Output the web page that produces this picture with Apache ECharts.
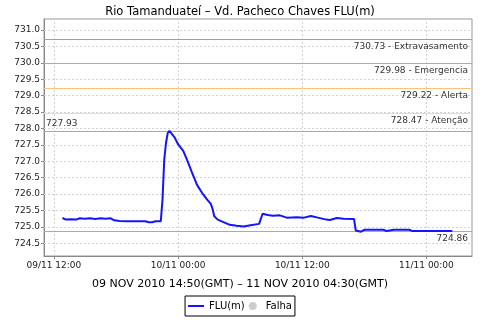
<!DOCTYPE html>
<html>
<head>
<meta charset="utf-8">
<script src="https://cdn.jsdelivr.net/npm/echarts@6/dist/echarts.min.js"></script>
<style>html,body{margin:0;padding:0;background:#fff}#c{width:480px;height:320px}</style>
</head>
<body>
<div id="c"></div>
<script>
// Times (local, dd/MM HH:mm, November 2010) and FLU(m) readings
var times = ['09 12:50','09 13:10','09 13:40','09 14:10','09 14:20','09 14:30','09 15:00','09 15:30','09 16:00','09 16:30',
 '09 17:00','09 17:30','09 17:50','09 18:20','09 19:00','09 19:50','09 20:50','09 21:10','09 21:30','09 21:50',
 '09 22:20','09 22:30','09 22:40','09 22:50','09 23:00','09 23:10','09 23:40','10 00:00','10 00:30','10 00:50',
 '10 01:20','10 01:50','10 02:20','10 02:50','10 03:10','10 03:20','10 03:30','10 03:50','10 04:30','10 05:00',
 '10 05:40','10 06:20','10 07:00','10 07:50','10 08:00','10 08:10','10 08:40','10 09:10','10 09:50','10 10:30',
 '10 11:30','10 12:10','10 12:50','10 13:30','10 13:40','10 14:20','10 14:40','10 15:20','10 16:00','10 17:00',
 '10 17:10','10 17:40','10 18:00','10 19:50','10 20:10','10 20:50','10 22:20','10 22:40','11 02:30'];
var flu = [725.27,725.22,725.23,725.22,725.28,725.26,725.25,725.26,725.24,725.26,
 725.25,725.26,725.20,725.18,725.17,725.17,725.17,725.14,725.14,725.17,
 725.17,725.83,727.05,727.55,727.86,727.93,727.73,727.52,727.32,727.07,
 726.67,726.28,726.03,725.82,725.70,725.55,725.32,725.22,725.13,725.06,
 725.03,725.01,725.05,725.09,725.10,725.40,725.36,725.34,725.35,725.28,
 725.29,725.28,725.33,725.28,725.27,725.22,725.21,725.27,725.25,725.24,
 724.89,724.85,724.91,724.91,724.87,724.91,724.91,724.87,724.87];
var xTicks = ['09 12:00', '10 00:00', '10 12:00', '11 00:00'];
var yTicks = [724.5, 725.0, 725.5, 726.0, 726.5, 727.0, 727.5, 728.0, 728.5, 729.0, 729.5, 730.0, 730.5, 731.0];
var markerValues = [730.73, 729.98, 729.22, 728.47];
var markerNames = ['Extravasamento', 'Emergencia', 'Alerta', 'Atenção'];
var markerColors = ['#f08080', '#ff70ff', '#ffc080', '#ffe070'];
var maxValue = 727.93;
var lastValue = 724.86;

function toTs(s) {
  var d = +s.slice(0, 2), h = +s.slice(3, 5), m = +s.slice(6, 8);
  return Date.UTC(2010, 10, d, h, m);
}
function pad(n) { return (n < 10 ? '0' : '') + n; }

var data = times.map(function (t, i) { return [toTs(t), flu[i]]; });
var xTickValues = xTicks.map(toTs);

var lblFont = { color: '#333', fontSize: 9, fontFamily: 'DejaVu Sans' };
function thresholdSeries(v, color, text, pos, dist) {
  return {
    name: 'thr' + v, type: 'line', data: [], z: 2, silent: true, color: color,
    itemStyle: { color: color }, lineStyle: { color: color },
    markLine: {
      silent: true, symbol: ['none', 'none'], animation: false,
      lineStyle: { color: color, type: 'solid', width: 1.2, opacity: 1 },
      label: Object.assign({ show: true, position: pos, formatter: text, distance: dist }, lblFont),
      data: [{ yAxis: v }]
    }
  };
}
var gridDash = { color: '#d4d4d4', type: [2, 2], width: 1 };
var gridSeries = {
  name: 'grid', type: 'line', data: [], z: 1, silent: true, color: '#d4d4d4',
  markLine: {
    silent: true, symbol: ['none', 'none'], animation: false,
    lineStyle: gridDash, label: { show: false },
    data: xTickValues.map(function (t) { return { xAxis: t }; })
      .concat(yTicks.map(function (v) { return { yAxis: v }; }))
  }
};

var series = [gridSeries];
markerValues.forEach(function (v, i) {
  series.push(thresholdSeries(v, markerColors[i], v.toFixed(2) + ' - ' + markerNames[i], 'insideEndBottom', [4, 3]));
});
series.push(thresholdSeries(maxValue, '#aaaaaa', maxValue.toFixed(2), 'insideStartTop', [2, 3]));
series.push(thresholdSeries(lastValue, '#aaaaaa', lastValue.toFixed(2), 'insideEndBottom', [4, 3]));
series.push({
  name: 'FLU(m)', type: 'line', data: data, symbol: 'none', showSymbol: false,
  lineStyle: { color: '#1414ff', width: 2 }, itemStyle: { color: '#1414ff' }, z: 5
});
series.push({ name: 'Falha', type: 'scatter', data: [], itemStyle: { color: '#c0c0c0' } });

var chart = echarts.init(document.getElementById('c'), null, { renderer: 'canvas' });
chart.setOption({
  animation: false,
  backgroundColor: '#fff',
  title: [
    { text: 'Rio Tamanduateí – Vd. Pacheco Chaves FLU(m)', left: 'center', top: 1,
      textStyle: { fontSize: 11.5, fontWeight: 'normal', color: '#000', fontFamily: 'DejaVu Sans' } },
    { text: '09 NOV 2010 14:50(GMT) – 11 NOV 2010 04:30(GMT)', left: 'center', top: 274,
      textStyle: { fontSize: 11, fontWeight: 'normal', color: '#000', fontFamily: 'DejaVu Sans' } }
  ],
  grid: { left: 44, right: 8, top: 19, bottom: 64, show: true, borderColor: '#999', borderWidth: 1, backgroundColor: '#fff' },
  legend: {
    bottom: 4, left: 'center', itemWidth: 16, itemHeight: 8, itemGap: 4,
    symbolKeepAspect: true,
    borderColor: '#000', borderWidth: 1, padding: [5, 3, 5, 3],
    textStyle: { fontSize: 10, color: '#000', fontFamily: 'DejaVu Sans' },
    data: [
      { name: 'FLU(m)', icon: 'path://M0,0H16V2H0Z', itemStyle: { color: '#1414ff' } },
      { name: 'Falha', icon: 'circle', itemStyle: { color: '#c0c0c0' } }
    ]
  },
  xAxis: {
    type: 'value',
    min: Date.UTC(2010, 10, 9, 11, 3),
    max: Date.UTC(2010, 10, 11, 4, 24),
    axisLine: { lineStyle: { color: '#888' } },
    axisTick: { show: true, length: 3, lineStyle: { color: '#888' }, customValues: xTickValues },
    axisLabel: {
      color: '#222', fontSize: 9, fontFamily: 'DejaVu Sans', margin: 5,
      customValues: xTickValues,
      formatter: function (v) {
        var d = new Date(v);
        return pad(d.getUTCDate()) + '/' + pad(d.getUTCMonth() + 1) + ' ' + pad(d.getUTCHours()) + ':' + pad(d.getUTCMinutes());
      }
    },
    splitLine: { show: false }
  },
  yAxis: {
    type: 'value',
    min: 724.11,
    max: 731.34,
    axisLine: { show: true, lineStyle: { color: '#888' } },
    axisTick: { show: true, length: 3, lineStyle: { color: '#888' }, customValues: yTicks },
    axisLabel: { color: '#222', fontSize: 9, fontFamily: 'DejaVu Sans', margin: 4,
      customValues: yTicks,
      formatter: function (v) { return v.toFixed(1); } },
    splitLine: { show: false }
  },
  series: series
});
</script>
</body>
</html>
